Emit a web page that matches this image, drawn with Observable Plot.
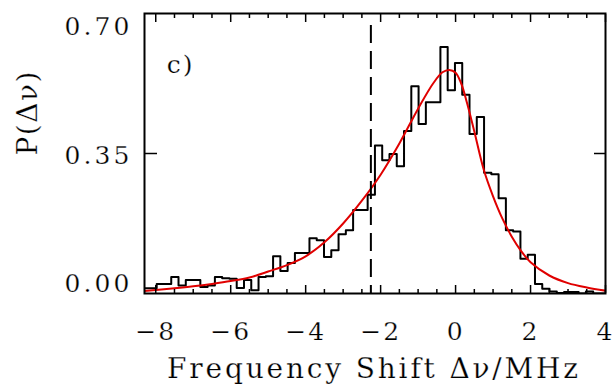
<!DOCTYPE html>
<html><head><meta charset="utf-8">
<script src="https://cdn.jsdelivr.net/npm/d3@7"></script>
<script src="https://cdn.jsdelivr.net/npm/@observablehq/plot@0.6"></script>
<style>
  html,body{margin:0;padding:0;background:#fff}
</style>
</head><body><div id="chart"></div>
<script>
// Histogram: bins of constant width starting at binStart
const binStart = -8.363;
const binWidth = 0.1941;
const histValues = [
  0.013, 0.013, 0.024, 0.024, 0.041, 0.020, 0.034, 0.034, 0.016, 0.020,
  0.041, 0.038, 0.037, 0.014, 0.034, 0.008, 0.041, 0.043, 0.093, 0.056,
  0.076, 0.101, 0.101, 0.138, 0.133, 0.091, 0.108, 0.148, 0.158, 0.209,
  0.209, 0.247, 0.370, 0.333, 0.349, 0.318, 0.406, 0.518, 0.424, 0.478,
  0.478, 0.616, 0.508, 0.576, 0.497, 0.399, 0.441, 0.302, 0.298, 0.238,
  0.158, 0.155, 0.087, 0.097, 0.024, 0.012, 0.005, 0.001, 0.004, 0.004,
  0.000, 0.005, 0.000, 0.000
];
// Fitted curve
const fitX = [-8.3, -7.5, -7.0, -6.5, -6.0, -5.5, -5.0, -4.5, -4.0, -3.5, -3.0, -2.5, -2.0, -1.5, -1.0, -0.6, -0.35, -0.17, 0.0, 0.15, 0.3, 0.5, 0.75, 1.0, 1.25, 1.5, 1.75, 2.0, 2.5, 3.0, 3.5, 4.0];
const fitY = [0.006, 0.013, 0.018, 0.024, 0.031, 0.040, 0.055, 0.071, 0.093, 0.128, 0.175, 0.232, 0.297, 0.375, 0.462, 0.525, 0.553, 0.559, 0.552, 0.525, 0.478, 0.405, 0.31, 0.243, 0.187, 0.142, 0.106, 0.078, 0.045, 0.026, 0.015, 0.007];
const markerX = -2.26;
const xMajorTicks = [-8, -6, -4, -2, 0, 2, 4];
const xMinorTicks = [-7.5, -7, -6.5, -5.5, -5, -4.5, -3.5, -3, -2.5, -1.5, -1, -0.5, 0.5, 1, 1.5, 2.5, 3, 3.5];
const yTicks = [0, 0.35, 0.70];
const panelLabel = "c)";
const xTitle = "Frequency Shift Δν/MHz";
const yTitle = "P(Δν)";

const hist = histValues.map((v, i) => ({x: binStart + i * binWidth, y: v}));
hist.push({x: binStart + histValues.length * binWidth, y: histValues[histValues.length - 1]});
const fit = fitX.map((x, i) => ({x, y: fitY[i]}));

const fmtY = d3.format(".2f");
const fmtX = d => d < 0 ? "\u2212" + (-d) : String(d);

const plot = Plot.plot({
  width: 613, height: 384,
  marginLeft: 144, marginRight: 8, marginTop: 13, marginBottom: 91,
  x: {domain: [-8.3, 4], label: null},
  y: {domain: [0, 0.70], label: null},
  style: {fontFamily: "DejaVu Serif", background: "white", color: "black", overflow: "visible"},
  marks: [
    Plot.line(hist, {x: "x", y: "y", curve: "step-after", stroke: "black", strokeWidth: 2, clip: true}),
    Plot.line(fit, {x: "x", y: "y", curve: "catmull-rom", stroke: "#e00000", strokeWidth: 2, clip: true}),
    Plot.ruleX([markerX], {stroke: "black", strokeWidth: 2, strokeDasharray: "18,8", insetTop: 12}),
    // inward ticks
    Plot.axisX({ticks: xMajorTicks, anchor: "bottom", tickSize: -8, tickFormat: () => "", strokeWidth: 1.5, label: null}),
    Plot.axisX({ticks: xMinorTicks, anchor: "bottom", tickSize: -4, tickFormat: () => "", strokeWidth: 1.5, label: null}),
    Plot.axisX({ticks: xMajorTicks, anchor: "top", tickSize: -8, tickFormat: () => "", strokeWidth: 1.5, label: null}),
    Plot.axisX({ticks: xMinorTicks, anchor: "top", tickSize: -4, tickFormat: () => "", strokeWidth: 1.5, label: null}),
    Plot.axisY({ticks: [yTicks[1]], anchor: "left", tickSize: -13, tickFormat: () => "", strokeWidth: 1.5, label: null}),
    Plot.axisY({ticks: [yTicks[1]], anchor: "right", tickSize: -12, tickFormat: () => "", strokeWidth: 1.5, label: null}),
    // tick labels
    Plot.axisX({ticks: xMajorTicks, anchor: "bottom", tickSize: 0, tickPadding: 29, fontSize: 25, tickFormat: fmtX, label: null}),
    Plot.axisY({ticks: [yTicks[0]], anchor: "left", tickSize: 0, tickPadding: 12, dy: -10, fontSize: 25, tickFormat: fmtY, label: null}),
    Plot.axisY({ticks: [yTicks[1]], anchor: "left", tickSize: 0, tickPadding: 12, dy: 2, fontSize: 25, tickFormat: fmtY, label: null}),
    Plot.axisY({ticks: [yTicks[2]], anchor: "left", tickSize: 0, tickPadding: 12, dy: 13, fontSize: 25, tickFormat: fmtY, label: null}),
    Plot.frame({stroke: "black", strokeWidth: 2}),
    // titles
    Plot.text([xTitle], {frameAnchor: "bottom", lineAnchor: "bottom", dy: 84, dx: -1, fontSize: 28, fill: "black"}),
    Plot.text([yTitle], {frameAnchor: "left", rotate: -90, dx: -116, dy: 2, fontSize: 28, fill: "black"}),
    Plot.text([panelLabel], {frameAnchor: "top-left", textAnchor: "middle", lineAnchor: "middle", dx: 36, dy: 51, fontSize: 25, fill: "black"})
  ]
});
document.getElementById("chart").appendChild(plot);

// Widen the letters to the original's wide serif face: spacing chosen so each text has the original's width
const targetWidth = {"Frequency Shift Δν/MHz": 411, "P(Δν)": 84, "0.70": 65, "0.35": 65, "0.00": 65};
d3.select(plot).selectAll("text").each(function() {
  const t = this.textContent;
  const n = t.length;
  let ls = 2;
  if (targetWidth[t] && n > 1) {
    this.style.letterSpacing = "0px";
    const w0 = this.getComputedTextLength();
    ls = Math.max(0, (targetWidth[t] - w0) / (n - 1));
  }
  this.style.letterSpacing = ls.toFixed(2) + "px";
  this.style.stroke = "white";
  this.style.strokeWidth = "0.25px";
  this.style.paintOrder = "fill";
});
</script>
</body></html>
